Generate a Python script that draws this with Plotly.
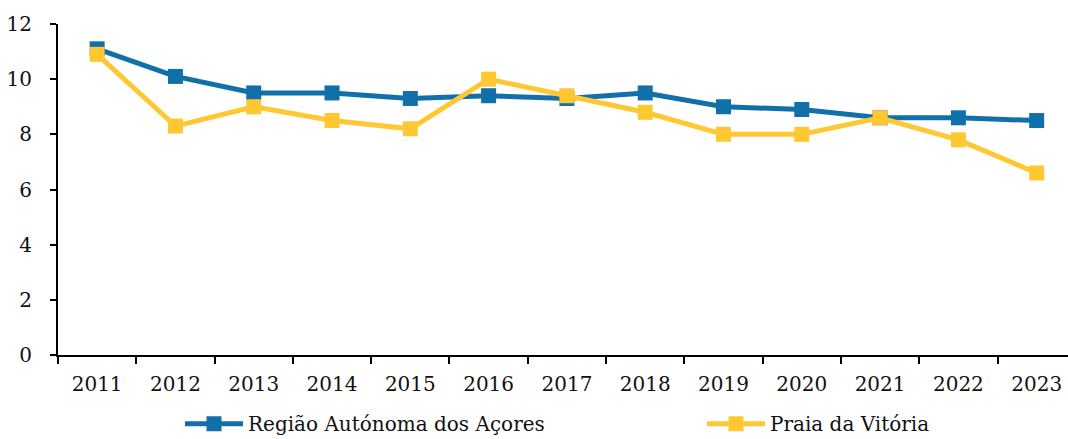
import plotly.graph_objects as go

anos = ["2011", "2012", "2013", "2014", "2015", "2016", "2017",
        "2018", "2019", "2020", "2021", "2022", "2023"]
acores = [11.1, 10.1, 9.5, 9.5, 9.3, 9.4, 9.3, 9.5, 9.0, 8.9, 8.6, 8.6, 8.5]
praia = [10.9, 8.3, 9.0, 8.5, 8.2, 10.0, 9.4, 8.8, 8.0, 8.0, 8.6, 7.8, 6.6]
y_ticks = [0, 2, 4, 6, 8, 10, 12]

AZUL = "#1170aa"
AMARELO = "#ffc832"
FONTE = "DejaVu Serif"

fig = go.Figure()
fig.add_trace(go.Scatter(x=anos, y=acores, mode="lines+markers", name="Região Autónoma dos Açores",
                         line=dict(color=AZUL, width=5),
                         marker=dict(symbol="square", size=15, color=AZUL), legend="legend"))
fig.add_trace(go.Scatter(x=anos, y=praia, mode="lines+markers", name="Praia da Vitória",
                         line=dict(color=AMARELO, width=5),
                         marker=dict(symbol="square", size=15, color=AMARELO), legend="legend2"))

leg = dict(orientation="h", xref="container", yref="container", xanchor="left",
           y=0.035, yanchor="middle", itemwidth=58, font=dict(size=20), bgcolor="rgba(0,0,0,0)")

fig.update_layout(
    width=1068, height=439,
    margin=dict(l=58, r=0, t=24, b=84),
    paper_bgcolor="white", plot_bgcolor="white",
    font=dict(family=FONTE, size=20, color="#111111"),
    showlegend=True,
    legend=dict(leg, x=(180 / 1068)),
    legend2=dict(leg, x=(702 / 1068)),
    # o eixo continua para lá da margem direita, como no original
    xaxis=dict(type="category", showline=True, linecolor="black", linewidth=2,
               ticks="outside", ticklen=7, tickwidth=2, tickcolor="black",
               tickson="boundaries", showgrid=False, ticklabelstandoff=10,
               range=[-0.5, 12.4], automargin=False),
    yaxis=dict(range=[0, 12], tickvals=y_ticks, showline=True, linecolor="black", linewidth=2,
               ticks="outside", ticklen=6, tickwidth=2, tickcolor="black",
               showgrid=False, zeroline=False, ticklabelstandoff=14, automargin=False),
)

fig.write_html("out.html", config={"displayModeBar": False},
               post_script="document.body.style.margin='0';")
